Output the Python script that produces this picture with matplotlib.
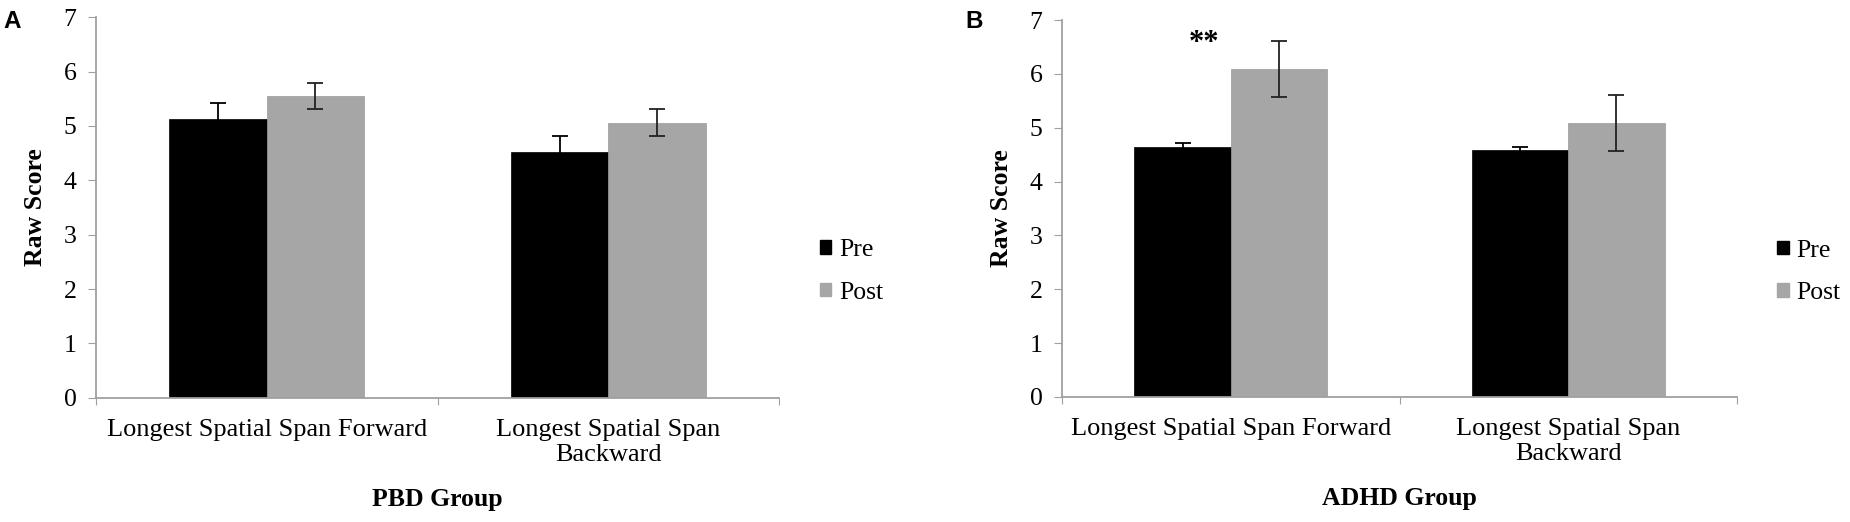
import matplotlib
matplotlib.use("Agg")
import matplotlib.pyplot as plt
from matplotlib.patches import Patch
import numpy as np

plt.rcParams['font.family'] = ['Liberation Serif', 'DejaVu Serif']

# data
categories = ["Longest Spatial Span Forward", "Longest Spatial Span\nBackward"]
series = ["Pre", "Post"]
pbd_pre = [5.13, 4.53]
pbd_pre_err = [0.30, 0.29]
pbd_post = [5.55, 5.06]
pbd_post_err = [0.24, 0.25]
adhd_pre = [4.65, 4.59]
adhd_pre_err = [0.07, 0.05]
adhd_post = [6.10, 5.08]
adhd_post_err = [0.52, 0.52]
group_names = ["PBD Group", "ADHD Group"]
panel_letters = ["A", "B"]

pre_col = "#000000"
post_col = "#a6a6a6"
axis_col = "#a0a0a0"
fs = 18.5

fig = plt.figure(figsize=(18.5, 5.22), dpi=100)
axA = fig.add_axes([0.0519, 0.238, 0.3692, 0.729])
axB = fig.add_axes([0.574, 0.2395, 0.365, 0.722])

panels = [
    (axA, pbd_pre, pbd_pre_err, pbd_post, pbd_post_err),
    (axB, adhd_pre, adhd_pre_err, adhd_post, adhd_post_err),
]

w = 0.285
x = np.arange(len(categories))
for i, (ax, pre, pre_e, post, post_e) in enumerate(panels):
    ax.bar(x - w/2, pre, w, color=pre_col, edgecolor=pre_col, linewidth=0.5)
    ax.bar(x + w/2, post, w, color=post_col, edgecolor="#999999", linewidth=0.5)
    ax.errorbar(x - w/2, pre, yerr=pre_e, fmt="none", ecolor="black",
                elinewidth=1.3, capsize=5.5, capthick=1.3)
    ax.errorbar(x + w/2, post, yerr=post_e, fmt="none", ecolor="#222222",
                elinewidth=1.3, capsize=5.5, capthick=1.3)

    ax.set_xlim(-0.5, 1.5)
    ax.set_ylim(0, 7)
    ax.set_yticks(range(8))
    ax.tick_params(axis="y", labelsize=fs, length=6, color=axis_col, pad=8)
    ax.set_xticks([-0.5, 0.5, 1.5])
    ax.set_xticklabels([])
    ax.tick_params(axis="x", which="major", length=5, color=axis_col)
    ax.set_xticks(x, categories, minor=True)
    ax.tick_params(axis="x", which="minor", length=0, labelsize=19, pad=15)
    for lab in ax.get_xticklabels(minor=True):
        lab.set_linespacing(1.2)

    for s in ["top", "right"]:
        ax.spines[s].set_visible(False)
    for s in ["left", "bottom"]:
        ax.spines[s].set_color(axis_col)
        ax.spines[s].set_linewidth(1.3)

    ax.set_ylabel("Raw Score", fontsize=fs, fontweight="bold", labelpad=12)
    ax.set_xlabel(group_names[i], fontsize=fs, fontweight="bold", labelpad=16)

    handles = [Patch(color=pre_col), Patch(color=post_col)]
    ax.legend(handles, series, loc="center left", bbox_to_anchor=(1.048, 0.332),
              frameon=False, fontsize=fs, handlelength=0.45, handleheight=0.45,
              handletextpad=0.3, labelspacing=0.8, borderpad=0.3,
              borderaxespad=0)

# panel letters
fig.text(0.002, 0.958, panel_letters[0], fontsize=17.5, fontweight="bold",
         family="Liberation Sans", ha="left", va="center")
fig.text(0.5216, 0.958, panel_letters[1], fontsize=17.5, fontweight="bold",
         family="Liberation Sans", ha="left", va="center")

# significance marker over the ADHD forward pair
axB.text(x[0] - 0.08, 6.57, "**", ha="center", va="center", fontsize=22,
         fontweight="bold")

fig.savefig("out.png", dpi=100)
